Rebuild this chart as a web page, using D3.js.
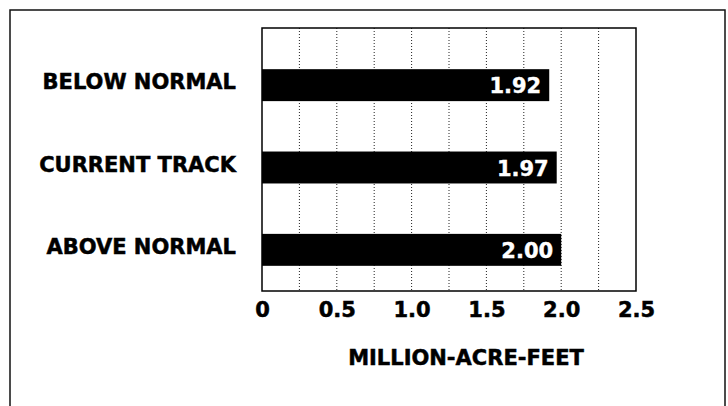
<!DOCTYPE html>
<html>
<head>
<meta charset="utf-8">
<script src="https://cdn.jsdelivr.net/npm/d3@7"></script>
<style>
  html, body { margin: 0; padding: 0; background: #fff; }
  svg { display: block; }
  text { font-family: "DejaVu Sans", sans-serif; font-weight: bold; }
</style>
</head>
<body>
<script>
const categories = ["BELOW NORMAL", "CURRENT TRACK", "ABOVE NORMAL"];
const values = [1.92, 1.97, 2.00];
const valueLabels = ["1.92", "1.97", "2.00"];
const tickValues = [0, 0.5, 1.0, 1.5, 2.0, 2.5];
const tickLabels = ["0", "0.5", "1.0", "1.5", "2.0", "2.5"];
const gridValues = [0.25, 0.5, 0.75, 1.0, 1.25, 1.5, 1.75, 2.0, 2.25];
const axisTitle = "MILLION-ACRE-FEET";

const W = 728, H = 406;
const plot = { left: 262, right: 636, top: 28, bottom: 291 };

const svg = d3.select("body").append("svg").attr("width", W).attr("height", H);

// outer frame
svg.append("rect")
  .attr("x", 10).attr("y", 10).attr("width", 715).attr("height", 420)
  .attr("fill", "none").attr("stroke", "#111").attr("stroke-width", 1.5);

const x = d3.scaleLinear().domain([0, 2.5]).range([plot.left, plot.right]);
const y = d3.scaleBand().domain(categories).range([28, 307])
  .paddingInner(0.612).paddingOuter(0.5);

// grid
svg.append("g").selectAll("line").data(gridValues).join("line")
  .attr("x1", d => x(d)).attr("x2", d => x(d))
  .attr("y1", plot.top).attr("y2", plot.bottom)
  .attr("stroke", "#222").attr("stroke-width", 1)
  .attr("stroke-dasharray", "1,2");

// bars
svg.append("g").selectAll("rect").data(values).join("rect")
  .attr("x", x(0))
  .attr("y", (d, i) => y(categories[i]))
  .attr("width", d => x(d) - x(0))
  .attr("height", y.bandwidth())
  .attr("fill", "#000");

// value labels
svg.append("g").selectAll("text").data(values).join("text")
  .attr("x", d => x(d) - 8)
  .attr("y", (d, i) => y(categories[i]) + y.bandwidth() / 2 + 8)
  .attr("text-anchor", "end")
  .attr("fill", "#fff")
  .attr("stroke", "#fff").attr("stroke-width", 0.4)
  .attr("font-size", 21)
  .text((d, i) => valueLabels[i]);

// plot frame
svg.append("rect")
  .attr("x", plot.left).attr("y", plot.top)
  .attr("width", plot.right - plot.left).attr("height", plot.bottom - plot.top)
  .attr("fill", "none").attr("stroke", "#000").attr("stroke-width", 1.5);

// category labels
svg.append("g").selectAll("text").data(categories).join("text")
  .attr("x", 236)
  .attr("y", d => y(d) + y.bandwidth() / 2 + 4)
  .attr("text-anchor", "end")
  .attr("fill", "#000")
  .attr("stroke", "#000").attr("stroke-width", 0.5)
  .attr("font-size", 21)
  .text(d => d);

// x axis
const axis = d3.axisBottom(x).tickValues(tickValues)
  .tickFormat((d, i) => tickLabels[i]).tickSize(0).tickPadding(0);
const gx = svg.append("g").attr("transform", `translate(0,${plot.bottom})`).call(axis);
gx.select(".domain").remove();
gx.selectAll("text")
  .attr("y", 0).attr("dy", null)
  .attr("transform", "translate(0,26)")
  .attr("font-size", 21)
  .attr("font-family", "DejaVu Sans, sans-serif")
  .attr("font-weight", "bold")
  .attr("fill", "#000")
  .attr("stroke", "#000").attr("stroke-width", 0.5);

svg.append("text")
  .attr("x", 466).attr("y", 365)
  .attr("text-anchor", "middle")
  .attr("font-size", 21)
  .attr("fill", "#000")
  .attr("stroke", "#000").attr("stroke-width", 0.5)
  .text(axisTitle);
</script>
</body>
</html>
